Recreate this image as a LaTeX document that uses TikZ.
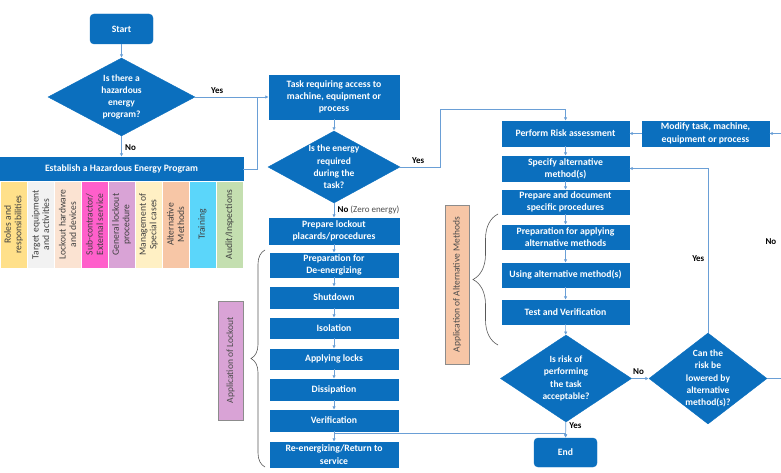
\documentclass[tikz,border=0pt]{standalone}
\usepackage{fontspec}
\setmainfont{Carlito}
\usepackage{tikz}
\usetikzlibrary{arrows.meta}
\usetikzlibrary{positioning,decorations.pathreplacing,shapes.geometric}
\definecolor{boxblue}{HTML}{0B6FBE}
\definecolor{lineblue}{HTML}{6A9FD6}
\definecolor{cRoles}{HTML}{FFE08A}
\definecolor{cTarget}{HTML}{F2F2F2}
\definecolor{cHardware}{HTML}{FBE3D2}
\definecolor{cSub}{HTML}{FF5FCB}
\definecolor{cGeneral}{HTML}{D9A3D6}
\definecolor{cSpecial}{HTML}{FFF0C4}
\definecolor{cAlt}{HTML}{F7C6A6}
\definecolor{cTraining}{HTML}{5BD6FA}
\definecolor{cAudit}{HTML}{C4DFB0}

\begin{document}
\begin{tikzpicture}[x=1pt,y=-1pt]
		\tikzset{flow box/.style={draw=boxblue,fill=boxblue,text=white,font=\fontsize{9.7}{12.3}\selectfont\bfseries,align=center,inner sep=1pt,minimum width=#1},
			flow box/.default=128pt,
			flow end/.style={flow box=63pt,rounded corners=4pt},
			flow diamond/.style={diamond,fill=boxblue,draw=boxblue,inner sep=0pt},
			diamond text/.style={text=white,font=\fontsize{9.5}{12.3}\selectfont\bfseries,align=center},
			pillar/.style={draw=white,line width=0.8pt,fill=#1,rotate=90,minimum width=87pt,minimum height=27pt,inner sep=1pt,text=black!75,font=\fontsize{9.6}{10.5}\selectfont,align=center},
			side label/.style={draw=black!45,fill=#1,rotate=90,inner sep=1pt,text=black!70,font=\fontsize{9.5}{10}\selectfont},
			flow line/.style={draw=lineblue,line width=0.7pt},
			flow arrow/.style={flow line,-{Latex[length=3.5pt,width=3.5pt]}},
			answer/.style={font=\fontsize{9}{10}\selectfont\bfseries,text=black},
			curly/.style={draw=black!65,line width=0.6pt,decorate,decoration={brace,amplitude=#1}}}
		\useasboundingbox (0,0) rectangle (781,473);

		\node [flow end, minimum height=30pt] (start) at (121.5,29) {Start};
		\node [flow diamond, minimum width=147pt, minimum height=78pt, label={[diamond text]center:Is there a\\hazardous\\energy\\program?}] (d1) at (121.5,97) {};
		\node [flow box=243pt, minimum height=24pt] (est) at (121.5,169) {Establish a Hazardous Energy Program};

		\node [pillar=cRoles] (p1) at (13.5,224.5) {Roles and\\responsibilities};
		\node [pillar=cTarget] (p2) at (40.5,224.5) {Target equipment\\and activities};
		\node [pillar=cHardware] (p3) at (67.5,224.5) {Lockout hardware\\and devices};
		\node [pillar=cSub] (p4) at (94.5,224.5) {Sub-contractor/\\External service};
		\node [pillar=cGeneral] (p5) at (121.5,224.5) {General lockout\\procedure};
		\node [pillar=cSpecial] (p6) at (148.5,224.5) {Management of\\Special cases};
		\node [pillar=cAlt] (p7) at (175.5,224.5) {Alternative\\Methods};
		\node [pillar=cTraining] (p8) at (202.5,224.5) {Training};
		\node [pillar=cAudit] (p9) at (229.5,224.5) {Audit/Inspections};

		\node [flow box=130pt, minimum height=44pt] (task) at (334,97) {Task requiring access to\\machine, equipment or\\process};
		\node [flow diamond, minimum width=132pt, minimum height=72pt, label={[diamond text]center:Is the energy\\required\\during the\\task?}] (d2) at (334,167) {};
		\node [flow box=130pt, minimum height=26pt] (prep) at (334,231) {Prepare lockout\\placards/procedures};
		\node [flow box, minimum height=24pt] (deen) at (334,265) {Preparation for\\De-energizing};
		\node [flow box, minimum height=21pt] (shut) at (334,297.5) {Shutdown};
		\node [flow box, minimum height=20pt] (iso) at (334,328) {Isolation};
		\node [flow box, minimum height=20pt] (locks) at (334,359) {Applying locks};
		\node [flow box, minimum height=21pt] (diss) at (334,389.5) {Dissipation};
		\node [flow box, minimum height=21pt] (verif) at (334,420.5) {Verification};
		\node [flow box, minimum height=25pt] (reen) at (334,454.5) {Re-energizing/Return to\\service};
		\node [side label=cGeneral, minimum width=119pt, minimum height=25pt] (lockout) at (230.5,360.5) {Application of Lockout};

		\node [flow box=127pt, minimum height=25pt] (risk) at (565.5,133.5) {Perform Risk assessment};
		\node [flow box=127pt, minimum height=25pt] (modify) at (705.5,133.5) {Modify task, machine,\\equipment or process};
		\node [flow box=127pt, minimum height=25pt] (spec) at (565.5,168.5) {Specify alternative\\method(s)};
		\node [flow box=127pt, minimum height=24pt] (doc) at (565.5,202) {Prepare and document\\specific procedures};
		\node [flow box=127pt, minimum height=24pt] (apply) at (565.5,237) {Preparation for applying\\alternative methods};
		\node [flow box=127pt, minimum height=24pt] (using) at (565.5,275) {Using alternative method(s)};
		\node [flow box=127pt, minimum height=24pt] (test) at (565.5,312) {Test and Verification};
		\node [flow diamond, minimum width=131pt, minimum height=87pt, label={[diamond text]center:Is risk of\\performing\\the task\\acceptable?}] (d3) at (566,378.5) {};
		\node [flow diamond, minimum width=118pt, minimum height=91pt, label={[diamond text]center:Can the\\risk be\\lowered by\\alternative\\method(s)?}] (d4) at (708,378.5) {};
		\node [flow end, minimum height=29pt] (end) at (565.5,452.5) {End};
		\node [side label=cAlt, minimum width=159pt, minimum height=24pt] (altlabel) at (457,284.5) {Application of Alternative Methods};

		\coordinate (c1) at (257,97);
		\coordinate (c2) at (440,109);
		\coordinate (j1) at (334,433);
		\coordinate (c3) at (785,378.5);
		\coordinate (c4) at (785,133.5);

		\draw [flow arrow] (start) -- (d1);
		\draw [flow arrow] (d1) -- node[answer, right, pos=0.55] {No} (est);
		\draw [flow arrow] (d1) -- node[answer, above, pos=0.3] {Yes} (task);
		\draw [flow line] (est.east) -| (c1);
		\draw [flow arrow] (task) -- (d2);
		\draw [flow arrow] (d2) -- node[right, pos=0.45, font=\fontsize{9}{10}\selectfont, text=black!70] {\textbf{\color{black}No} (Zero energy)} (prep);
		\draw [flow arrow] (d2.east) -- node[answer, above, pos=0.45] {Yes} (d2.east -| c2) -- (c2) -| (risk.north);
		\draw [flow arrow] (prep) -- (deen);
		\draw [flow arrow] (deen) -- (shut);
		\draw [flow arrow] (shut) -- (iso);
		\draw [flow arrow] (iso) -- (locks);
		\draw [flow arrow] (locks) -- (diss);
		\draw [flow arrow] (diss) -- (verif);
		\draw [flow arrow] (verif) -- (reen);
		\draw [flow arrow] (j1) -| (end.north);

		\draw [flow arrow] (modify) -- (risk);
		\draw [flow arrow] (risk) -- (spec);
		\draw [flow arrow] (spec) -- (doc);
		\draw [flow arrow] (doc) -- (apply);
		\draw [flow arrow] (apply) -- (using);
		\draw [flow arrow] (using) -- (test);
		\draw [flow arrow] (test) -- (d3);
		\draw [flow arrow] (d3) -- node[answer, above, pos=0.4] {No} (d4);
		\draw [flow arrow] (d3) -- node[answer, right, pos=0.2] {Yes} (end);
		\draw [flow arrow] (d4.north) -- node[answer, left, pos=0.45] {Yes} (d4.north |- spec.east) -- (spec.east);
		\draw [flow arrow] (d4.east) -- (c3) -- node[answer, anchor=east, pos=0.56, xshift=-5pt] {No} (c4) -- (modify.east);

		\draw [curly=14pt] (265,467) -- (265,250);
		\draw [curly=25pt] (498,345) -- (498,214);
	\end{tikzpicture}
\end{document}
